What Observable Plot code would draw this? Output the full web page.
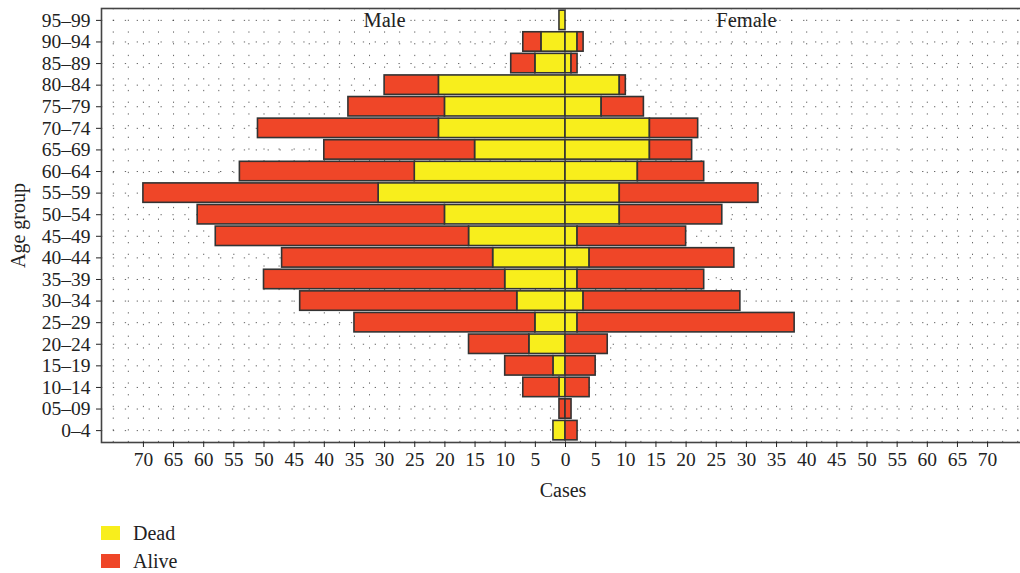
<!DOCTYPE html>
<html>
<head>
<meta charset="utf-8">
<script src="https://cdn.jsdelivr.net/npm/d3@7"></script>
<script src="https://cdn.jsdelivr.net/npm/@observablehq/plot@0.6"></script>
<style>
  html, body { margin: 0; padding: 0; background: #fff; overflow: hidden; }
  #wrap { width: 1020px; height: 505px; overflow: hidden; }
  #wrap svg { max-width: none !important; display: block; }
  .legend { font-family: "Liberation Serif", serif; font-size: 20px; color: #222; margin-left: 101px; margin-top: 14px; }
  .legend .row { display: flex; align-items: center; height: 28px; }
  .legend .sw { width: 19px; height: 14px; margin-right: 13px; }
</style>
</head>
<body>
<div id="wrap"></div>
<script>
const ages = ["95–99","90–94","85–89","80–84","75–79","70–74","65–69","60–64","55–59","50–54","45–49","40–44","35–39","30–34","25–29","20–24","15–19","10–14","05–09","0–4"];
const maleDead    = [1,4,5,21,20,21,15,25,31,20,16,12,10,8,5,6,2,1,0,2];
const maleAlive   = [0,3,4,9,16,30,25,29,39,41,42,35,40,36,30,10,8,6,1,0];
const femaleDead  = [0,2,1,9,6,14,14,12,9,9,2,4,2,3,2,0,0,0,0,0];
const femaleAlive = [0,1,1,1,7,8,7,11,23,17,18,24,21,26,36,7,5,4,1,2];
const statuses = ["Dead", "Alive"];
const colors = ["#F8EE1C", "#EF4628"];
const sides = ["Male", "Female"];
const xTicks = d3.range(-70, 71, 5);

const rows = [];
ages.forEach((a, i) => {
  rows.push({age: a, status: "Dead", x1: 0, x2: -maleDead[i]});
  rows.push({age: a, status: "Alive", x1: -maleDead[i], x2: -(maleDead[i] + maleAlive[i])});
  rows.push({age: a, status: "Dead", x1: 0, x2: femaleDead[i]});
  rows.push({age: a, status: "Alive", x1: femaleDead[i], x2: femaleDead[i] + femaleAlive[i]});
});
const bars = rows.filter(d => d.x1 !== d.x2);
const sideLabels = sides.map((s, i) => ({text: s, x: i === 0 ? -30 : 30, age: ages[0]}));

const chart = Plot.plot({
  width: 1024,
  height: 505,
  marginLeft: 101,
  marginRight: 0,
  marginTop: 8,
  marginBottom: 63,
  style: {fontFamily: "Liberation Serif, serif", fontSize: "19.5px", color: "#222", background: "#fff"},
  x: {domain: [-76.95, 76.12]},
  y: {domain: ages, padding: 0.1, round: false},
  color: {domain: statuses, range: colors},
  marks: [
    Plot.gridX(d3.range(-75, 76, 2.5), {stroke: "#333", strokeOpacity: 0.75, strokeDasharray: "1.3,10.4"}),
    Plot.gridY(ages, {stroke: "#333", strokeOpacity: 0.75, strokeDasharray: "1.3,10.6"}),
    Plot.barX(bars, {y: "age", x1: "x1", x2: "x2", fill: "status", stroke: "#333", strokeWidth: 1.6}),
    Plot.text(sideLabels, {x: "x", y: "age", text: "text", fontSize: 20.5, fill: "#222"}),
    Plot.frame({stroke: "#444", strokeWidth: 1.6}),
    Plot.axisX({ticks: xTicks, tickFormat: d => Math.abs(d), tickSize: 5, tickPadding: 5, label: null, fontSize: 19.5}),
    Plot.axisY({tickSize: 5, tickPadding: 6, label: null, fontSize: 19.5}),
    Plot.text(["Cases"], {frameAnchor: "bottom", dy: 48, lineAnchor: "middle", textAnchor: "middle", fontSize: 20, fill: "#222"}),
    Plot.text(["Age group"], {frameAnchor: "left", dx: -83, rotate: -90, textAnchor: "middle", lineAnchor: "middle", fontSize: 20, fill: "#222"})
  ]
});
chart.style.maxWidth = "none";
document.getElementById("wrap").appendChild(chart);

const legend = document.createElement("div");
legend.className = "legend";
statuses.forEach((s, i) => {
  const r = document.createElement("div");
  r.className = "row";
  r.innerHTML = `<span class="sw" style="background:${colors[i]}"></span><span>${s}</span>`;
  legend.appendChild(r);
});
document.body.appendChild(legend);
</script>
</body>
</html>
